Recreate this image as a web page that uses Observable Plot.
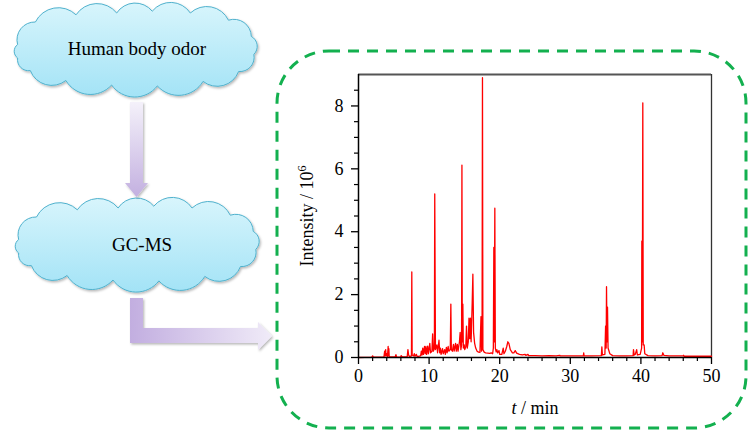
<!DOCTYPE html>
<html><head><meta charset="utf-8">
<script src="https://cdn.jsdelivr.net/npm/d3@7"></script>
<script src="https://cdn.jsdelivr.net/npm/@observablehq/plot@0.6"></script>
<style>body{margin:0;background:#fff;}</style>
</head><body><div id="chart"></div>
<script>
// ---- chromatogram data (retention time in min, intensity in 10^6) ----
const retentionTime = [
  0,1.9,2.0,2.1,3.6,3.7,3.75,3.85,3.9,4.0,4.1,4.2,4.25,4.3,4.35,5.2,5.3,5.4,5.95,6.05,6.2,
  6.9,7.0,7.1,7.2,7.5,7.55,7.6,7.8,7.9,8.0,8.2,8.3,8.8,8.9,9.0,9.1,9.2,9.35,9.45,9.55,9.65,
  9.8,9.9,10.1,10.2,10.4,10.5,10.6,10.75,10.8,10.9,11.1,11.2,11.4,11.5,11.6,11.7,11.9,12.0,
  12.2,12.3,12.45,12.55,12.7,12.8,13.0,13.08,13.15,13.3,13.45,13.55,13.75,13.85,14.0,14.1,
  14.3,14.4,14.5,14.6,14.65,14.7,14.78,14.85,14.97,15.05,15.2,15.3,15.4,15.55,15.65,15.75,
  15.85,15.95,16.1,16.2,16.3,16.45,16.6,16.8,17.0,17.2,17.35,17.42,17.5,17.56,17.62,17.8,
  18.0,18.3,18.6,18.8,19.0,19.1,19.17,19.23,19.31,19.38,19.5,19.6,19.7,19.9,20.0,20.3,20.5,
  20.6,20.8,21.0,21.15,21.3,21.5,21.8,22.0,22.2,22.4,22.8,23.2,23.6,23.7,24.0,24.1,25,26,27,
  28,28.5,28.6,30,31.85,31.9,31.95,33,34.4,34.47,34.55,34.9,35.0,35.08,35.13,35.2,35.27,
  35.35,35.6,36,37,38,38.9,38.95,39.05,39.2,39.4,39.5,39.9,40.1,40.13,40.2,40.27,40.33,
  40.46,40.55,41,42,43.0,43.1,43.25,44,45,46,46.05,46.1,48,50
];
const intensity = [
  0,0.01,0.05,0.01,0.01,0.2,0.05,0.25,0.05,0.12,0.03,0.35,0.05,0.28,0.02,0.02,0.09,0.02,0.01,0.06,0.02,
  0.03,0.25,0.08,0.03,0.05,2.72,0.08,0.05,0.12,0.04,0.1,0.03,0.05,0.2,0.08,0.3,0.1,0.35,0.12,0.35,0.1,
  0.36,0.12,0.45,0.15,0.2,0.75,0.2,0.3,5.2,0.25,0.4,0.15,0.55,0.15,0.3,0.1,0.28,0.12,
  0.25,0.1,0.32,0.15,0.35,0.2,0.25,1.7,0.25,0.2,0.42,0.2,0.45,0.2,0.42,0.2,
  0.5,0.8,0.25,0.4,6.12,0.5,1.7,0.3,0.4,0.25,0.35,1.0,0.3,0.5,1.25,0.6,
  1.25,0.5,1.7,2.65,0.8,0.45,0.3,0.2,0.17,0.16,1.3,0.2,0.3,8.9,0.25,0.17,
  0.15,0.14,0.13,0.15,0.12,0.3,3.5,0.5,4.75,0.3,0.18,0.25,0.15,0.22,0.1,0.1,0.3,
  0.12,0.2,0.35,0.5,0.45,0.25,0.15,0.15,0.22,0.14,0.1,0.08,0.1,0.07,0.1,0.06,0.06,0.05,0.06,
  0.05,0.07,0.05,0.05,0.05,0.15,0.05,0.05,0.06,0.34,0.08,0.1,1.0,0.3,2.25,0.5,1.6,
  0.3,0.12,0.06,0.05,0.05,0.06,0.25,0.08,0.1,0.25,0.08,0.1,0.3,3.7,0.5,8.1,0.4,
  0.4,0.12,0.06,0.05,0.06,0.15,0.07,0.05,0.05,0.05,0.07,0.04,0.04,0.04
];
const xMajorTicks = [0, 10, 20, 30, 40, 50];
const xMinorTicks = [2,4,6,8,12,14,16,18,22,24,26,28,32,34,36,38,42,44,46,48];
const yMajorTicks = [0, 2, 4, 6, 8];
const yMinorTicks = [0.5,1,1.5,2.5,3,3.5,4.5,5,5.5,6.5,7,7.5,8.5];
const flowSteps = ["Human body odor", "GC-MS"];
const xTitleItalic = "t", xTitleRest = " / min";
const yTitleMain = "Intensity / 10", yTitleSup = "6";

const rows = retentionTime.map((t, i) => ({t, v: intensity[i]}));
const font = "'Liberation Serif','Times New Roman',serif";

const svgPlot = Plot.plot({
  width: 754, height: 434,
  marginLeft: 358, marginRight: 43, marginTop: 74, marginBottom: 77,
  style: {fontFamily: font, fontSize: "18px", color: "#000", background: "#fff", overflow: "visible"},
  x: {domain: [0, 50]},
  y: {domain: [0, 9]},
  marks: [
    Plot.ruleY([9], {stroke: "#555", strokeWidth: 2}),
    Plot.ruleX([50], {stroke: "#333", strokeWidth: 1.3}),
    Plot.line(rows, {x: "t", y: "v", stroke: "#ff0000", strokeWidth: 1.3}),
    Plot.axisX({ticks: xMajorTicks, tickSize: 7, tickPadding: 5, tickFormat: d => String(d), label: null, stroke: "#000", strokeWidth: 1.3}),
    Plot.axisX({ticks: xMinorTicks, tickSize: 4, fill: "none", label: null, stroke: "#000", strokeWidth: 1.2}),
    Plot.axisY({ticks: yMajorTicks, tickSize: 7, tickPadding: 8, tickFormat: d => String(d), label: null, stroke: "#000", strokeWidth: 1.3}),
    Plot.axisY({ticks: yMinorTicks, tickSize: 4, fill: "none", label: null, stroke: "#000", strokeWidth: 1.2}),
    Plot.ruleX([0], {stroke: "#000", strokeWidth: 1.5}),
    Plot.ruleY([0], {stroke: "#000", strokeWidth: 1.5})
  ]
});
document.getElementById("chart").append(svgPlot);

// ---- decorations: flow chart clouds, arrows, dashed frame, axis titles ----
const svg = d3.select(svgPlot);
const defs = svg.insert("defs", ":first-child");
const cg = defs.append("linearGradient").attr("id", "cloudFill").attr("x1", 0).attr("y1", 0).attr("x2", 0).attr("y2", 1);
cg.append("stop").attr("offset", 0).attr("stop-color", "#d8f5fc");
cg.append("stop").attr("offset", 1).attr("stop-color", "#a3e3f6");
const ag1 = defs.append("linearGradient").attr("id", "arrowV").attr("x1", 0).attr("y1", 0).attr("x2", 0).attr("y2", 1);
ag1.append("stop").attr("offset", 0).attr("stop-color", "#f4f1fa");
ag1.append("stop").attr("offset", 1).attr("stop-color", "#c3b0e0");
const ag2 = defs.append("linearGradient").attr("id", "arrowH").attr("gradientUnits", "userSpaceOnUse")
  .attr("x1", 130).attr("y1", 0).attr("x2", 272).attr("y2", 0);
ag2.append("stop").attr("offset", 0).attr("stop-color", "#c2aee0");
ag2.append("stop").attr("offset", 1).attr("stop-color", "#f0ebf8");
const sh = defs.append("filter").attr("id", "shadow").attr("x", "-10%").attr("y", "-10%").attr("width", "130%").attr("height", "130%");
sh.append("feDropShadow").attr("dx", 1.2).attr("dy", 1.5).attr("stdDeviation", 1).attr("flood-color", "#000").attr("flood-opacity", 0.28);

const cloudShape = [[0.03,0.45],[0.10,0.20],[0.26,0.12],[0.42,0.10],[0.56,0.08],[0.71,0.10],[0.86,0.18],
  [0.95,0.36],[0.96,0.56],[0.90,0.75],[0.76,0.86],[0.58,0.91],[0.40,0.90],[0.22,0.85],[0.08,0.74],[0.03,0.60]];
function cloudPath(x0, y0, w, h) {
  const pts = cloudShape.map(([u, v]) => [x0 + u * w, y0 + v * h]);
  let d = `M${pts[0][0]},${pts[0][1]}`;
  for (let i = 1; i <= pts.length; i++) {
    const a = pts[i - 1], b = pts[i % pts.length];
    const r = Math.hypot(b[0] - a[0], b[1] - a[1]) * 0.62;
    d += `A${r},${r} 0 0 1 ${b[0]},${b[1]}`;
  }
  return d + "Z";
}
const deco = svg.append("g");
const clouds = [{x: 10, y: 4, w: 254, h: 90, cx: 137, cy: 48}, {x: 11, y: 199, w: 255, h: 90, cx: 142, cy: 244}];
clouds.forEach((c, i) => {
  deco.append("path").attr("d", cloudPath(c.x, c.y, c.w, c.h))
    .attr("fill", "url(#cloudFill)").attr("stroke", "#4fb1cd").attr("stroke-width", 1).attr("filter", "url(#shadow)");
  deco.append("text").attr("x", c.cx).attr("y", c.cy).attr("dy", "0.35em").attr("text-anchor", "middle")
    .attr("font-family", font).attr("font-size", 19).attr("fill", "#000").text(flowSteps[i]);
});
deco.append("path").attr("d", "M130,102H143V183H148L136.5,197L125,183H130Z")
  .attr("fill", "url(#arrowV)").attr("filter", "url(#shadow)");
deco.append("path").attr("d", "M130,298H143V328H258V322L272,336L258,350V343H130Z")
  .attr("fill", "url(#arrowH)").attr("filter", "url(#shadow)");
deco.append("rect").attr("x", 277).attr("y", 51).attr("width", 469).attr("height", 377).attr("rx", 52).attr("ry", 52)
  .attr("fill", "none").attr("stroke", "#13b04f").attr("stroke-width", 3).attr("stroke-dasharray", "11 8");

const yt = deco.append("text").attr("transform", "translate(313,216) rotate(-90)").attr("text-anchor", "middle")
  .attr("font-family", font).attr("font-size", 18).attr("fill", "#000");
yt.append("tspan").text(yTitleMain);
yt.append("tspan").attr("dy", -7).attr("font-size", 12).text(yTitleSup);
const xt = deco.append("text").attr("x", 535).attr("y", 414).attr("text-anchor", "middle")
  .attr("font-family", font).attr("font-size", 18).attr("fill", "#000");
xt.append("tspan").attr("font-style", "italic").text(xTitleItalic);
xt.append("tspan").text(xTitleRest);
</script>
</body></html>
